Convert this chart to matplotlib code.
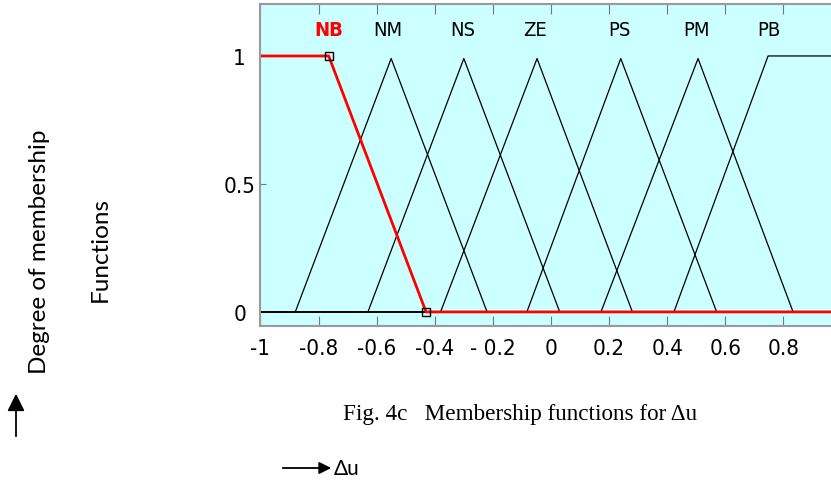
import numpy as np
import matplotlib
matplotlib.use('Agg')
import matplotlib.pyplot as plt
from matplotlib import font_manager

# membership function breakpoints (x) and grades (y), universe [-1, 1]
names = ['NB', 'NM', 'NS', 'ZE', 'PS', 'PM', 'PB']
label_x = [-0.765, -0.56, -0.305, -0.055, 0.235, 0.50, 0.75]
nb_x = [-1.0, -0.765, -0.43, 1.0]
nb_y = [1.0, 1.0, 0.0, 0.0]
nm_x = [-1.0, -0.88, -0.55, -0.22, 1.0]
ns_x = [-1.0, -0.63, -0.30, 0.03, 1.0]
ze_x = [-1.0, -0.38, -0.048, 0.28, 1.0]
ps_x = [-1.0, -0.083, 0.24, 0.57, 1.0]
pm_x = [-1.0, 0.172, 0.506, 0.833, 1.0]
tri_y = [0.0, 0.0, 0.99, 0.0, 0.0]
pb_x = [-1.0, 0.423, 0.747, 1.0]
pb_y = [0.0, 0.0, 1.0, 1.0]

xticks = [-1, -0.8, -0.6, -0.4, -0.2, 0, 0.2, 0.4, 0.6, 0.8]
xticklabels = ['-1', '-0.8', '-0.6', '-0.4', '- 0.2', '0', '0.2', '0.4', '0.6', '0.8']
yticks = [0, 0.5, 1]
yticklabels = ['0', '0.5', '1']

fams = set(f.name for f in font_manager.fontManager.ttflist)
if 'Liberation Sans Narrow' in fams:
    narrow = dict(family='Liberation Sans Narrow')
else:
    narrow = dict(family='DejaVu Sans', stretch='condensed')
side = 'Lato' if 'Lato' in fams else 'Open Sans'

fig = plt.figure(figsize=(8.31, 4.81), dpi=100)
ax = fig.add_axes([260.4 / 831, 1 - 327 / 481, 581.2 / 831, 322 / 481])
ax.set_facecolor('#ccffff')

for xs in [nm_x, ns_x, ze_x, ps_x, pm_x]:
    ax.plot(xs, tri_y, color='black', lw=0.9)
ax.plot(pb_x, pb_y, color='black', lw=0.9)
ax.plot(nb_x, nb_y, color='red', lw=2.0)
ax.plot(nb_x[1:3], nb_y[1:3], linestyle='none', marker='s', ms=6,
        mfc='none', mec='black', mew=1.0)

for i, n in enumerate(names):
    if n == 'NB':
        ax.text(label_x[i], 1.105, n, color='red', fontweight='bold',
                ha='center', va='center', fontsize=14.5, **narrow)
    else:
        ax.text(label_x[i], 1.105, n, color='black',
                ha='center', va='center', fontsize=14.5, **narrow)

ax.set_xlim(-1, 1)
ax.set_ylim(-0.055, 1.203)
ax.set_xticks(xticks)
ax.set_xticklabels(xticklabels, fontsize=16, **narrow)
ax.set_yticks(yticks)
ax.set_yticklabels(yticklabels, fontsize=16, ha='center', **narrow)
ax.tick_params(axis='x', direction='in', length=7, color='#777777',
               top=True, pad=9)
ax.tick_params(axis='y', direction='in', length=4, color='#777777', pad=15)
for s in ax.spines.values():
    s.set_color('#999999')
    s.set_linewidth(1.5)

# side / caption texts
fig.text(40 / 831, 1 - 252 / 481, 'Degree of membership', rotation=90,
         ha='center', va='center', fontsize=17.5, family=side)
fig.text(100 / 831, 1 - 250 / 481, 'Functions', rotation=90,
         ha='center', va='center', fontsize=17.5, family=side)
fig.text(343 / 831, 1 - 415 / 481, 'Fig. 4c   Membership functions for \u0394u',
         ha='left', va='center', fontsize=16.7, family='Liberation Serif')
fig.text(334 / 831, 1 - 469 / 481, '\u0394u', ha='left', va='center',
         fontsize=15, family=side)

fig.patches.append(matplotlib.patches.FancyArrowPatch(
    (16 / 831, 1 - 440 / 481), (16 / 831, 1 - 392 / 481),
    transform=fig.transFigure, arrowstyle='-|>,head_length=0.4,head_width=0.2',
    mutation_scale=26, color='black', lw=1.3))
fig.patches.append(matplotlib.patches.FancyArrowPatch(
    (280 / 831, 1 - 469 / 481), (334 / 831, 1 - 469 / 481),
    transform=fig.transFigure, arrowstyle='-|>,head_length=0.4,head_width=0.2',
    mutation_scale=18, color='black', lw=1.3))

fig.savefig('out.png', dpi=100)
